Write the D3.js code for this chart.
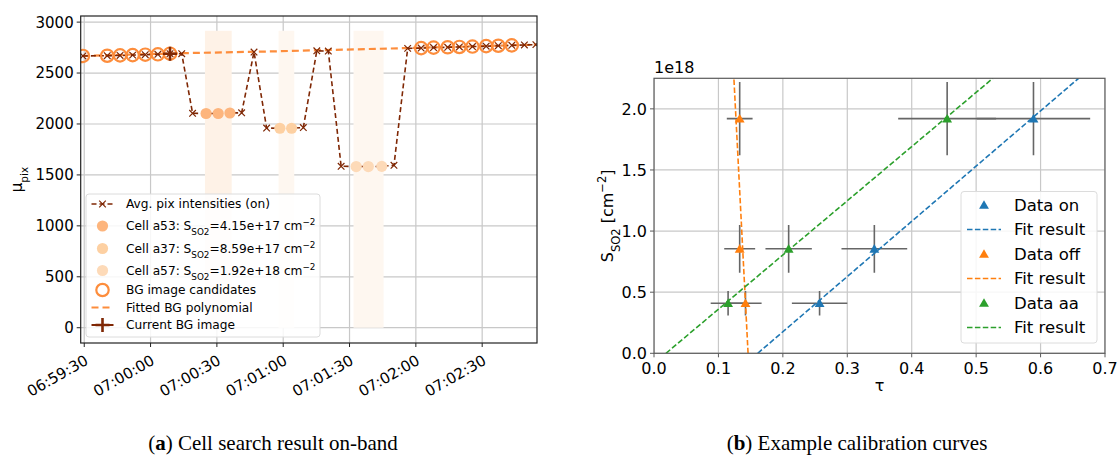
<!DOCTYPE html>
<html>
<head>
<meta charset="utf-8">
<script src="https://cdn.jsdelivr.net/npm/d3@7"></script>
<style>
  body { margin: 0; background: #fff; }
  svg text { font-family: "DejaVu Sans", sans-serif; fill: #000; }
</style>
</head>
<body>
<svg id="fig" width="1118" height="461"></svg>
<script>
// ---------- panel (a): times are seconds after 06:59:30 ----------
const avgTimes = [-0.6, 10.4, 16.2, 21.9, 27.6, 33.3, 38.8, 44.1, 49.0, 55.1, 60.6, 65.9, 71.2, 76.8,
  82.5, 88.5, 93.8, 99.1, 105.2, 110.4, 116.2, 123.0, 128.5, 134.6, 140.1, 146.3, 152.4, 158.0,
  164.4, 169.7, 175.6, 181.8, 187.3, 193.4, 199.1, 204.3];
const avgValues = [2668, 2670, 2673, 2676, 2680, 2684, 2690, 2690, 2105, 2103, 2103, 2108, 2110, 2706,
  1960, 1958, 1958, 1965, 2718, 2716, 1585, 1582, 1582, 1584, 1594, 2742, 2745, 2750,
  2753, 2756, 2760, 2764, 2768, 2772, 2776, 2779];
const bgTimes = [-0.6, 10.4, 16.2, 21.9, 27.6, 33.3, 38.8, 152.4, 158.0, 164.4, 169.7, 175.6, 181.8, 187.3, 193.4];
const bgValues = [2668, 2670, 2673, 2676, 2680, 2684, 2690, 2745, 2750, 2753, 2756, 2760, 2764, 2768, 2772];
const fitTimes = [-0.6, 44, 84, 146, 204.3];
const fitValues = [2668, 2695, 2712, 2745, 2779];
const currentBgTime = [38.8];
const currentBgValue = [2690];
const cellNames = ['a53', 'a37', 'a57'];
const cellSso2 = ['4.15e+17', '8.59e+17', '1.92e+18'];
const cellTimes = [[55.1, 60.6, 65.9], [88.5, 93.8], [123.0, 128.5, 134.6]];
const cellValues = [[2103, 2103, 2108], [1958, 1958], [1582, 1582, 1584]];
const spanStart = [54.6, 87.9, 121.8];
const spanEnd = [66.7, 95.0, 135.4];
const spanTop = 2915;
const timeTicks = [0, 30, 60, 90, 120, 150, 180];
const muTicks = [0, 500, 1000, 1500, 2000, 2500, 3000];

// ---------- panel (b): S in units of 1e18 cm^-2 ----------
const seriesNames = ['on', 'off', 'aa'];
const seriesColors = ['#1f77b4', '#ff7f0e', '#2ca02c'];
const tauOn = [0.257, 0.342, 0.589], tauOff = [0.142, 0.133, 0.133], tauAa = [0.115, 0.209, 0.455];
const tauErrOn = [0.043, 0.051, 0.088], tauErrOff = [0.025, 0.024, 0.02], tauErrAa = [0.027, 0.036, 0.076];
const sso2 = [0.41, 0.855, 1.92];
const sso2Err = [0.1, 0.195, 0.3];
const fitTauOn = [0.161, 0.659], fitTauOff = [0.146, 0.124], fitTauAa = [0.0186, 0.526];
const fitS = [0, 2.25];
const tauTicks = [0, 0.1, 0.2, 0.3, 0.4, 0.5, 0.6, 0.7];
const sTicks = [0, 0.5, 1.0, 1.5, 2.0];

const svg = d3.select('#fig');
const base = new Date(2020, 0, 1, 6, 59, 30);
const toDate = (s) => new Date(base.getTime() + s * 1000);

// ================= panel (a) =================
const A = { l: 80.7, r: 537, t: 16, b: 343 };
const xA = d3.scaleTime().domain([toDate(-1.6), toDate(204.8)]).range([A.l, A.r]);
const yA = d3.scaleLinear().domain([-150, 3060]).range([A.b, A.t]);

svg.append('clipPath').attr('id', 'clipA')
  .append('rect').attr('x', A.l).attr('y', A.t).attr('width', A.r - A.l).attr('height', A.b - A.t);
const gA = svg.append('g');
const plotA = gA.append('g').attr('clip-path', 'url(#clipA)');

// grid
plotA.selectAll('.gx').data(timeTicks).enter().append('line')
  .attr('x1', (d) => xA(toDate(d))).attr('x2', (d) => xA(toDate(d)))
  .attr('y1', A.t).attr('y2', A.b).attr('stroke', '#c8c8c8').attr('stroke-width', 1.2);
plotA.selectAll('.gy').data(muTicks).enter().append('line')
  .attr('x1', A.l).attr('x2', A.r).attr('y1', (d) => yA(d)).attr('y2', (d) => yA(d))
  .attr('stroke', '#c8c8c8').attr('stroke-width', 1.2);

// shaded spans over the cell images
const cellColors = ['#fdb57d', '#fdd0a2', '#fddab8'];
const spanColors = ['#fef2e7', '#fef7f0', '#fef7f0'];
spanStart.forEach((s, i) => {
  plotA.append('rect')
    .attr('x', xA(toDate(s))).attr('width', xA(toDate(spanEnd[i])) - xA(toDate(s)))
    .attr('y', yA(spanTop)).attr('height', yA(0) - yA(spanTop))
    .attr('fill', spanColors[i]);
});

const brown = '#7f2704';
const bgOrange = '#fd8d3c';

// fitted BG polynomial
const lineA = d3.line().x((d) => xA(toDate(d[0]))).y((d) => yA(d[1]));
plotA.append('path').datum(d3.zip(fitTimes, fitValues)).attr('d', lineA)
  .attr('fill', 'none').attr('stroke', bgOrange).attr('stroke-width', 2.2).attr('stroke-dasharray', '7,4');

// avg pix intensities
plotA.append('path').datum(d3.zip(avgTimes, avgValues)).attr('d', lineA)
  .attr('fill', 'none').attr('stroke', brown).attr('stroke-width', 1.6).attr('stroke-dasharray', '5,3');

const xMark = (g, cx, cy, s, color, w) => {
  g.append('path').attr('d', `M${cx - s},${cy - s}L${cx + s},${cy + s}M${cx - s},${cy + s}L${cx + s},${cy - s}`)
    .attr('stroke', color).attr('stroke-width', w).attr('fill', 'none');
};
avgTimes.forEach((t, i) => xMark(plotA, xA(toDate(t)), yA(avgValues[i]), 3.3, brown, 1.2));

// cells
cellTimes.forEach((ts, k) => {
  ts.forEach((t, i) => {
    plotA.append('circle').attr('cx', xA(toDate(t))).attr('cy', yA(cellValues[k][i]))
      .attr('r', 5.6).attr('fill', cellColors[k]);
  });
});

// BG candidates
bgTimes.forEach((t, i) => {
  plotA.append('circle').attr('cx', xA(toDate(t))).attr('cy', yA(bgValues[i]))
    .attr('r', 6.2).attr('fill', 'none').attr('stroke', bgOrange).attr('stroke-width', 2.2);
});

// current BG image
const plusMark = (g, cx, cy, s, color, w) => {
  g.append('path').attr('d', `M${cx - s},${cy}L${cx + s},${cy}M${cx},${cy - s}L${cx},${cy + s}`)
    .attr('stroke', color).attr('stroke-width', w).attr('fill', 'none');
};
currentBgTime.forEach((t, i) => plusMark(plotA, xA(toDate(t)), yA(currentBgValue[i]), 7, brown, 2.6));

// axes frame
gA.append('rect').attr('x', A.l).attr('y', A.t).attr('width', A.r - A.l).attr('height', A.b - A.t)
  .attr('fill', 'none').attr('stroke', '#222').attr('stroke-width', 1.2);

// y ticks
muTicks.forEach((d) => {
  gA.append('line').attr('x1', A.l - 4).attr('x2', A.l).attr('y1', yA(d)).attr('y2', yA(d))
    .attr('stroke', '#222').attr('stroke-width', 1);
  gA.append('text').attr('x', A.l - 7).attr('y', yA(d)).attr('dy', '0.36em')
    .attr('text-anchor', 'end').style('font-size', '15px').text(d);
});
// x ticks (rotated)
const fmt = d3.timeFormat('%H:%M:%S');
timeTicks.forEach((d) => {
  const x = xA(toDate(d));
  gA.append('line').attr('x1', x).attr('x2', x).attr('y1', A.b).attr('y2', A.b + 4)
    .attr('stroke', '#222').attr('stroke-width', 1);
  gA.append('text').attr('transform', `translate(${x - 1},${A.b + 10}) rotate(-30)`)
    .attr('text-anchor', 'end').attr('dy', '0.8em').style('font-size', '15px').text(fmt(toDate(d)));
});
// y label
const yLabA = gA.append('text').attr('transform', `translate(22,${(A.t + A.b) / 2}) rotate(-90)`)
  .attr('text-anchor', 'middle').style('font-size', '15px');
yLabA.append('tspan').text('μ');
yLabA.append('tspan').attr('baseline-shift', 'sub').style('font-size', '10.5px').text('pix');

// legend (a)
const LA = { x: 86, y: 194, w: 234, h: 143 };
const legA = gA.append('g');
legA.append('rect').attr('x', LA.x).attr('y', LA.y).attr('width', LA.w).attr('height', LA.h)
  .attr('rx', 3).attr('fill', 'rgba(255,255,255,0.85)').attr('stroke', '#dcdcdc');
const rowsA = [204, 226, 248.5, 270.5, 290, 307.5, 325];
const hx = 102.5, tx = 126;
// row 0
legA.append('line').attr('x1', hx - 11).attr('x2', hx + 11).attr('y1', rowsA[0]).attr('y2', rowsA[0])
  .attr('stroke', brown).attr('stroke-width', 1.6).attr('stroke-dasharray', '5,3');
xMark(legA, hx, rowsA[0], 3.3, brown, 1.2);
// rows 1-3 cells
cellNames.forEach((n, k) => {
  legA.append('circle').attr('cx', hx).attr('cy', rowsA[k + 1]).attr('r', 5.6).attr('fill', cellColors[k]);
});
// row 4 BG candidates
legA.append('circle').attr('cx', hx).attr('cy', rowsA[4]).attr('r', 6.2).attr('fill', 'none')
  .attr('stroke', bgOrange).attr('stroke-width', 2.2);
// row 5 fit
legA.append('line').attr('x1', hx - 11).attr('x2', hx + 11).attr('y1', rowsA[5]).attr('y2', rowsA[5])
  .attr('stroke', bgOrange).attr('stroke-width', 2.2).attr('stroke-dasharray', '7,4');
// row 6 current BG
legA.append('line').attr('x1', hx - 11).attr('x2', hx + 11).attr('y1', rowsA[6]).attr('y2', rowsA[6])
  .attr('stroke', brown).attr('stroke-width', 2);
plusMark(legA, hx, rowsA[6], 7, brown, 2.6);

const legText = (y) => legA.append('text').attr('x', tx).attr('y', y).attr('dy', '0.36em').style('font-size', '12.2px');
legText(rowsA[0]).text('Avg. pix intensities (on)');
cellNames.forEach((n, k) => {
  const t = legText(rowsA[k + 1]);
  t.append('tspan').text(`Cell ${n}: S`);
  t.append('tspan').attr('baseline-shift', 'sub').style('font-size', '8.8px').text('SO2');
  t.append('tspan').text(`=${cellSso2[k]} cm`);
  t.append('tspan').attr('baseline-shift', 'super').style('font-size', '8.8px').text('−2');
});
legText(rowsA[4]).text('BG image candidates');
legText(rowsA[5]).text('Fitted BG polynomial');
legText(rowsA[6]).text('Current BG image');

// ================= panel (b) =================
const B = { l: 654, r: 1105, t: 78.3, b: 353.3 };
const xB = d3.scaleLinear().domain([0, 0.7]).range([B.l, B.r]);
const yB = d3.scaleLinear().domain([0, 2.25]).range([B.b, B.t]);
svg.append('clipPath').attr('id', 'clipB')
  .append('rect').attr('x', B.l).attr('y', B.t).attr('width', B.r - B.l).attr('height', B.b - B.t);
const gB = svg.append('g');
const plotB = gB.append('g').attr('clip-path', 'url(#clipB)');

plotB.selectAll('.gx').data(tauTicks).enter().append('line')
  .attr('x1', (d) => xB(d)).attr('x2', (d) => xB(d)).attr('y1', B.t).attr('y2', B.b)
  .attr('stroke', '#c8c8c8').attr('stroke-width', 1.2);
plotB.selectAll('.gy').data(sTicks).enter().append('line')
  .attr('x1', B.l).attr('x2', B.r).attr('y1', (d) => yB(d)).attr('y2', (d) => yB(d))
  .attr('stroke', '#c8c8c8').attr('stroke-width', 1.2);

const taus = [tauOn, tauOff, tauAa];
const tauErrs = [tauErrOn, tauErrOff, tauErrAa];
const fitTaus = [fitTauOn, fitTauOff, fitTauAa];
const lineB = d3.line().x((d) => xB(d[0])).y((d) => yB(d[1]));

taus.forEach((ts, k) => {
  ts.forEach((t, i) => {
    plotB.append('line').attr('x1', xB(t - tauErrs[k][i])).attr('x2', xB(t + tauErrs[k][i]))
      .attr('y1', yB(sso2[i])).attr('y2', yB(sso2[i])).attr('stroke', '#666').attr('stroke-width', 1.6);
    plotB.append('line').attr('x1', xB(t)).attr('x2', xB(t))
      .attr('y1', yB(sso2[i] - sso2Err[i])).attr('y2', yB(sso2[i] + sso2Err[i]))
      .attr('stroke', '#666').attr('stroke-width', 1.6);
  });
});
const tri = d3.symbol().type(d3.symbolTriangle).size(42);
taus.forEach((ts, k) => {
  plotB.append('path').datum(d3.zip(fitTaus[k], fitS)).attr('d', lineB)
    .attr('fill', 'none').attr('stroke', seriesColors[k]).attr('stroke-width', 1.6).attr('stroke-dasharray', '5.5,2.4');
  ts.forEach((t, i) => {
    plotB.append('path').attr('d', tri).attr('transform', `translate(${xB(t)},${yB(sso2[i]) + 1})`)
      .attr('fill', seriesColors[k]);
  });
});

gB.append('rect').attr('x', B.l).attr('y', B.t).attr('width', B.r - B.l).attr('height', B.b - B.t)
  .attr('fill', 'none').attr('stroke', '#5a5a5a').attr('stroke-width', 1.2);
sTicks.forEach((d) => {
  gB.append('line').attr('x1', B.l - 4).attr('x2', B.l).attr('y1', yB(d)).attr('y2', yB(d))
    .attr('stroke', '#5a5a5a');
  gB.append('text').attr('x', B.l - 7).attr('y', yB(d)).attr('dy', '0.36em').attr('text-anchor', 'end')
    .style('font-size', '16px').text(d.toFixed(1));
});
tauTicks.forEach((d) => {
  gB.append('line').attr('x1', xB(d)).attr('x2', xB(d)).attr('y1', B.b).attr('y2', B.b + 4)
    .attr('stroke', '#5a5a5a');
  gB.append('text').attr('x', xB(d)).attr('y', B.b + 8).attr('dy', '0.8em').attr('text-anchor', 'middle')
    .style('font-size', '16px').text(d.toFixed(1));
});
gB.append('text').attr('x', B.l).attr('y', B.t - 5).style('font-size', '16px').text('1e18');
gB.append('text').attr('x', (B.l + B.r) / 2).attr('y', 391).attr('text-anchor', 'middle')
  .style('font-size', '16px').text('τ');
const yLabB = gB.append('text').attr('transform', `translate(613,${(B.t + B.b) / 2}) rotate(-90)`)
  .attr('text-anchor', 'middle').style('font-size', '16px');
yLabB.append('tspan').text('S');
yLabB.append('tspan').attr('baseline-shift', 'sub').style('font-size', '11.5px').text('SO2');
yLabB.append('tspan').text(' [cm');
yLabB.append('tspan').attr('baseline-shift', 'super').style('font-size', '11.5px').text('−2');
yLabB.append('tspan').text(']');

// legend (b)
const legB = gB.append('g');
legB.append('rect').attr('x', 961).attr('y', 191.5).attr('width', 136).attr('height', 151.5).attr('rx', 3)
  .attr('fill', 'rgba(255,255,255,0.85)').attr('stroke', '#dcdcdc');
const rowsB = [205, 229.5, 254, 278.5, 303, 327.5];
seriesNames.forEach((n, k) => {
  const yd = rowsB[2 * k], yf = rowsB[2 * k + 1];
  legB.append('path').attr('d', tri).attr('transform', `translate(984,${yd + 1})`).attr('fill', seriesColors[k]);
  legB.append('text').attr('x', 1014).attr('y', yd).attr('dy', '0.36em').style('font-size', '16.5px').text(`Data ${n}`);
  legB.append('line').attr('x1', 967).attr('x2', 1001).attr('y1', yf).attr('y2', yf)
    .attr('stroke', seriesColors[k]).attr('stroke-width', 1.6).attr('stroke-dasharray', '5.5,2.4');
  legB.append('text').attr('x', 1014).attr('y', yf).attr('dy', '0.36em').style('font-size', '16.5px').text('Fit result');
});

// ---------- captions ----------
const caption = (cx, letter, rest) => {
  const t = svg.append('text').attr('x', cx).attr('y', 450).attr('text-anchor', 'middle')
    .style('font-family', '"Liberation Serif", "DejaVu Serif", serif').style('font-size', '21px');
  t.append('tspan').text('(');
  t.append('tspan').style('font-weight', 'bold').text(letter);
  t.append('tspan').text(') ' + rest);
};
caption(273, 'a', 'Cell search result on-band');
caption(857, 'b', 'Example calibration curves');
</script>
</body>
</html>
